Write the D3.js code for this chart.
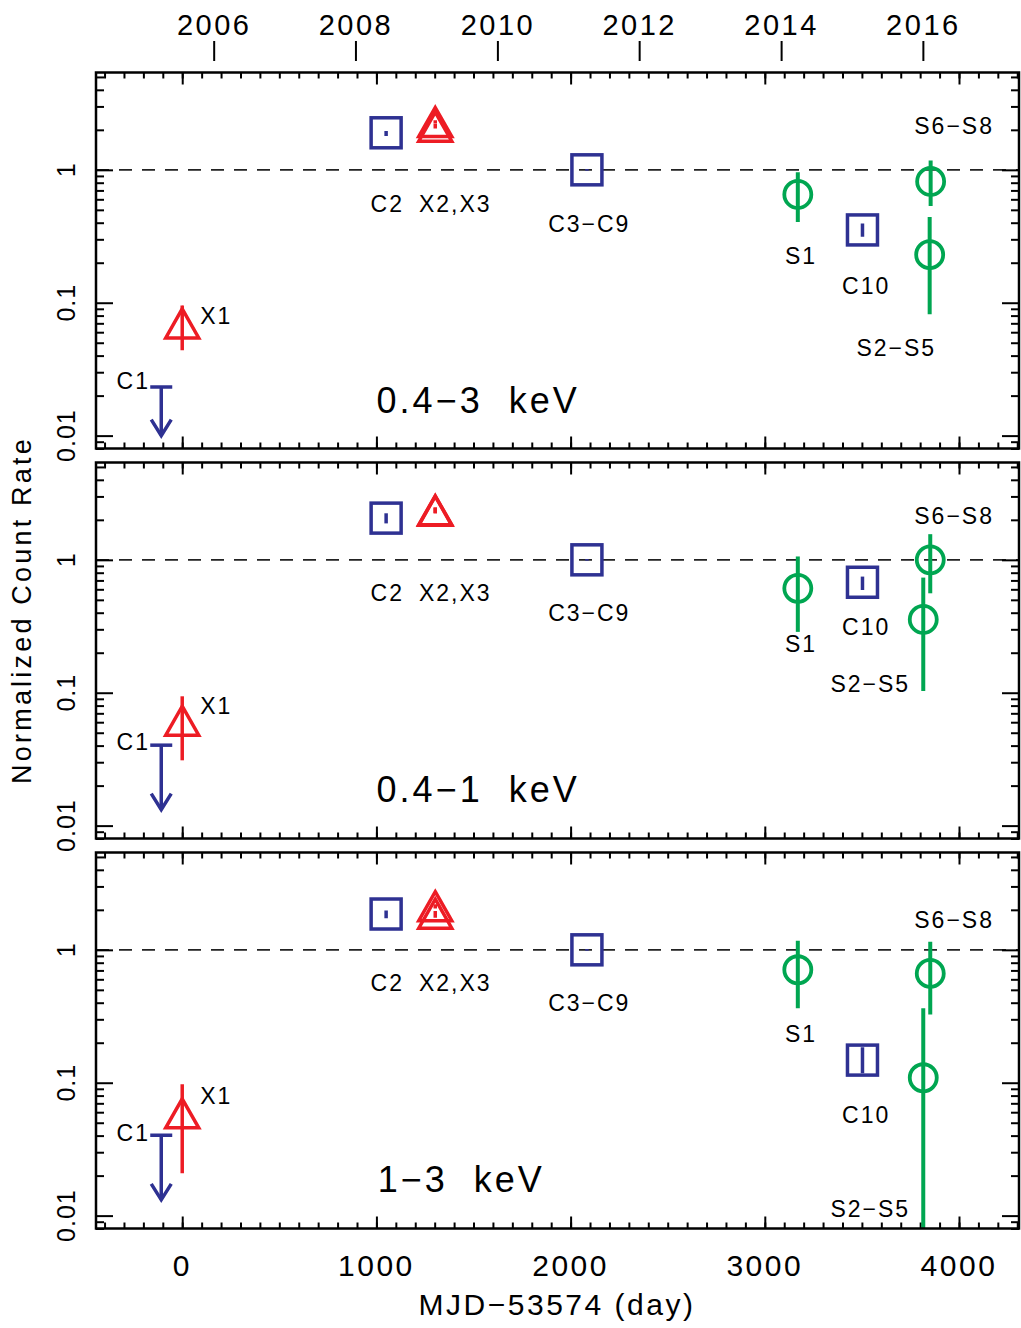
<!DOCTYPE html>
<html><head><meta charset="utf-8">
<script src="https://cdn.jsdelivr.net/npm/d3@7"></script>
<style>
body{margin:0;background:#fff}
svg{display:block}
text{font-family:"Liberation Sans",Arial,sans-serif;fill:#000}
</style>
</head><body>
<svg id="c" width="1021" height="1328"></svg>
<script>
// ---------------- data ----------------
const bandNames = ["0.4\u22123  keV", "0.4\u22121  keV", "1\u22123  keV"];

// Chandra (blue squares): C2, C3-C9, C10
const chandraDays = [1050, 2084, 3503];
const chandraRate = [[1.90, 1.00, 0.353], [2.06, 1.00, 0.678], [1.86, 1.00, 0.148]];
const chandraLo   = [[1.80, 0.985, 0.313], [1.88, 0.985, 0.593], [1.73, 0.985, 0.118]];
const chandraHi   = [[1.96, 1.015, 0.394], [2.24, 1.015, 0.748], [1.98, 1.015, 0.185]];

// XMM (red triangles): X1, X2, X3
const xmmDays = [0, 1303, 1303];
const xmmRate = [[0.0699, 2.29, 2.11], [0.0616, 2.36, 2.34], [0.0588, 2.13, 1.87]];
const xmmLo   = [[0.0438, 2.24, 2.05], [0.031, 2.24, 2.24], [0.0208, 2.05, 1.74]];
const xmmHi   = [[0.0955, 2.36, 2.23], [0.094, 2.48, 2.48], [0.0974, 2.20, 1.96]];

// Swift (green circles): S1, S2-S5, S6-S8
const swiftDays = [[3170, 3849, 3854], [3170, 3816, 3852], [3170, 3816, 3852]];
const swiftRate = [[0.653, 0.230, 0.818], [0.61, 0.356, 1.00], [0.708, 0.109, 0.665]];
const swiftLo   = [[0.405, 0.0818, 0.534], [0.287, 0.103, 0.56], [0.363, 0.001, 0.326]];
const swiftHi   = [[0.96, 0.442, 1.175], [1.06, 0.735, 1.56], [1.168, 0.363, 1.148]];

// Chandra C1 upper limit
const c1Day = -108;
const c1Limit = [0.0232, 0.0403, 0.0403];
const c1ArrowTip = [0.0100, 0.0132, 0.01315];

// point labels
const labelText = ["C1", "X1", "C2", "X2,X3", "C3\u2212C9", "S1", "C10", "S2\u2212S5", "S6\u2212S8"];
const labelDay = [
  [-252, 175, 1056, 1406, 2096, 3187, 3522, 3677, 3975],
  [-252, 175, 1056, 1406, 2096, 3187, 3522, 3543, 3975],
  [-252, 175, 1056, 1406, 2096, 3187, 3522, 3543, 3975]
];
const labelRate = [
  [0.0261, 0.0792, 0.560, 0.560, 0.396, 0.224, 0.135, 0.0455, 2.16],
  [0.0425, 0.0792, 0.570, 0.570, 0.403, 0.232, 0.313, 0.116, 2.14],
  [0.0418, 0.0796, 0.570, 0.570, 0.403, 0.232, 0.057, 0.0113, 1.695]
];
const bandLabelDay = [1524, 1524, 1437];
const bandLabelRate = [0.0185, 0.0188, 0.0188];

// ticks
const xMajorTicks = [0, 1000, 2000, 3000, 4000];
const xMinorTicks = d3.range(-400, 4301, 100);
const yMajorTicks = [0.01, 0.1, 1];
const yMajorLabels = ["0.01", "0.1", "1"];
const years = [2006, 2008, 2010, 2012, 2014, 2016];
const mjdRef = 53574;
const yearDays = years.map(yr => Date.UTC(yr, 0, 1) / 86400000 + 40587 - mjdRef);

// ---------------- layout ----------------
const BLUE = "#2e3192", RED = "#ed1c24", GREEN = "#00a651";
const left = 96, right = 1019;
const panelTop = [72.5, 462.5, 852.5], panelH = 376;
const svg = d3.select("#c");
const x = d3.scaleLinear().domain([-444, 4309]).range([left, right]);

function noDomain(s) { s.select(".domain").remove(); }

panelTop.forEach((top, p) => {
  const bot = top + panelH;
  const y = d3.scaleLog().domain([0.008, 5.4]).range([bot, top]);
  const g = svg.append("g");

  g.append("clipPath").attr("id", "clip" + p)
    .append("rect").attr("x", left).attr("y", top).attr("width", right - left).attr("height", panelH);

  // dashed reference
  g.append("line").attr("x1", left).attr("x2", right).attr("y1", y(1)).attr("y2", y(1))
    .attr("stroke", "#222").attr("stroke-width", 1.6).attr("stroke-dasharray", "13,10");

  // ticks
  const tickStyle = s => s.selectAll("line").attr("stroke", "#000").attr("stroke-width", 2);
  g.append("g").attr("transform", `translate(0,${bot})`)
    .call(d3.axisBottom(x).tickValues(xMinorTicks).tickSize(-6).tickFormat("")).call(noDomain).call(tickStyle);
  g.append("g").attr("transform", `translate(0,${bot})`)
    .call(d3.axisBottom(x).tickValues(xMajorTicks).tickSize(-12).tickFormat("")).call(noDomain).call(tickStyle);
  g.append("g").attr("transform", `translate(0,${top})`)
    .call(d3.axisTop(x).tickValues(xMinorTicks).tickSize(-6).tickFormat("")).call(noDomain).call(tickStyle);
  g.append("g").attr("transform", `translate(0,${top})`)
    .call(d3.axisTop(x).tickValues(xMajorTicks).tickSize(-12).tickFormat("")).call(noDomain).call(tickStyle);

  const yMinor = y.ticks().filter(v => !yMajorTicks.some(m => Math.abs(m - v) / m < 1e-6));
  g.append("g").attr("transform", `translate(${left},0)`)
    .call(d3.axisLeft(y).tickValues(yMinor).tickSize(-8).tickFormat("")).call(noDomain).call(tickStyle);
  g.append("g").attr("transform", `translate(${left},0)`)
    .call(d3.axisLeft(y).tickValues(yMajorTicks).tickSize(-17).tickFormat("")).call(noDomain).call(tickStyle);
  g.append("g").attr("transform", `translate(${right},0)`)
    .call(d3.axisRight(y).tickValues(yMinor).tickSize(-8).tickFormat("")).call(noDomain).call(tickStyle);
  g.append("g").attr("transform", `translate(${right},0)`)
    .call(d3.axisRight(y).tickValues(yMajorTicks).tickSize(-17).tickFormat("")).call(noDomain).call(tickStyle);

  // y tick labels (rotated)
  yMajorTicks.forEach((v, i) => {
    g.append("text").attr("transform", `translate(66,${y(v)}) rotate(-90)`)
      .attr("text-anchor", "middle").attr("dy", "0.36em")
      .attr("font-size", 25).attr("letter-spacing", 1).text(yMajorLabels[i]);
  });

  const m = g.append("g").attr("clip-path", `url(#clip${p})`);

  // Chandra squares
  chandraDays.forEach((d, i) => {
    const cx = x(d), cy = y(chandraRate[p][i]);
    m.append("line").attr("x1", cx).attr("x2", cx).attr("y1", y(chandraLo[p][i])).attr("y2", y(chandraHi[p][i]))
      .attr("stroke", BLUE).attr("stroke-width", 3.5);
    m.append("rect").attr("x", cx - 15).attr("y", cy - 15).attr("width", 30).attr("height", 30)
      .attr("fill", "none").attr("stroke", BLUE).attr("stroke-width", 3.5);
  });

  // XMM triangles
  xmmDays.forEach((d, i) => {
    const cx = x(d), cy = y(xmmRate[p][i]);
    m.append("line").attr("x1", cx).attr("x2", cx).attr("y1", y(xmmLo[p][i])).attr("y2", y(xmmHi[p][i]))
      .attr("stroke", RED).attr("stroke-width", 3.5);
    m.append("path").attr("d", `M${cx},${cy - 14.5}L${cx + 16.5},${cy + 14.5}L${cx - 16.5},${cy + 14.5}Z`)
      .attr("fill", "none").attr("stroke", RED).attr("stroke-width", 3.5).attr("stroke-linejoin", "miter");
  });

  // Swift circles
  swiftDays[p].forEach((d, i) => {
    const cx = x(d), cy = y(swiftRate[p][i]);
    m.append("line").attr("x1", cx).attr("x2", cx).attr("y1", y(swiftLo[p][i])).attr("y2", y(swiftHi[p][i]))
      .attr("stroke", GREEN).attr("stroke-width", 4);
    m.append("circle").attr("cx", cx).attr("cy", cy).attr("r", 13.5)
      .attr("fill", "none").attr("stroke", GREEN).attr("stroke-width", 3.8);
  });

  // C1 upper limit
  {
    const cx = x(c1Day), cTop = y(c1Limit[p]), tip = y(c1ArrowTip[p]);
    m.append("line").attr("x1", cx - 11).attr("x2", cx + 11).attr("y1", cTop).attr("y2", cTop)
      .attr("stroke", BLUE).attr("stroke-width", 3.5);
    m.append("line").attr("x1", cx).attr("x2", cx).attr("y1", cTop).attr("y2", tip)
      .attr("stroke", BLUE).attr("stroke-width", 3.5);
    m.append("path").attr("d", `M${cx - 10},${tip - 16}L${cx},${tip}L${cx + 10},${tip - 16}`)
      .attr("fill", "none").attr("stroke", BLUE).attr("stroke-width", 3.5);
  }

  // frame
  g.append("rect").attr("x", left).attr("y", top).attr("width", right - left).attr("height", panelH)
    .attr("fill", "none").attr("stroke", "#000").attr("stroke-width", 2.5);

  // point labels
  labelText.forEach((t, i) => {
    g.append("text").attr("x", x(labelDay[p][i])).attr("y", y(labelRate[p][i]))
      .attr("text-anchor", "middle").attr("dy", "0.36em")
      .attr("font-size", 23).attr("letter-spacing", 2).text(t);
  });

  // band label
  g.append("text").attr("x", x(bandLabelDay[p])).attr("y", y(bandLabelRate[p]))
    .attr("text-anchor", "middle").attr("dy", "0.36em").attr("xml:space", "preserve")
    .style("white-space", "pre")
    .attr("font-size", 36).attr("letter-spacing", 3).text(bandNames[p]);

  // bottom axis labels only in last panel
  if (p === panelTop.length - 1) {
    xMajorTicks.forEach(v => {
      g.append("text").attr("x", x(v)).attr("y", 1276).attr("text-anchor", "middle")
        .attr("font-size", 30).attr("letter-spacing", 2.5).text(String(v));
    });
  }
});

// top year axis
const yearAxis = svg.append("g").attr("transform", "translate(0,61)")
  .call(d3.axisTop(x).tickValues(yearDays).tickSize(20).tickPadding(6).tickFormat((d, i) => String(years[i])));
yearAxis.select(".domain").remove();
yearAxis.selectAll("line").attr("stroke", "#000").attr("stroke-width", 2);
yearAxis.selectAll("text").attr("font-size", 29).attr("letter-spacing", 2.5)
  .attr("font-family", "Liberation Sans, Arial, sans-serif").attr("fill", "#000");

// axis titles
svg.append("text").attr("x", 557).attr("y", 1315).attr("text-anchor", "middle")
  .attr("font-size", 30).attr("letter-spacing", 2.5).text("MJD\u221253574 (day)");
svg.append("text").attr("transform", "translate(31,610) rotate(-90)").attr("text-anchor", "middle")
  .attr("font-size", 27).attr("letter-spacing", 3.2).text("Normalized Count Rate");
</script>
</body></html>
